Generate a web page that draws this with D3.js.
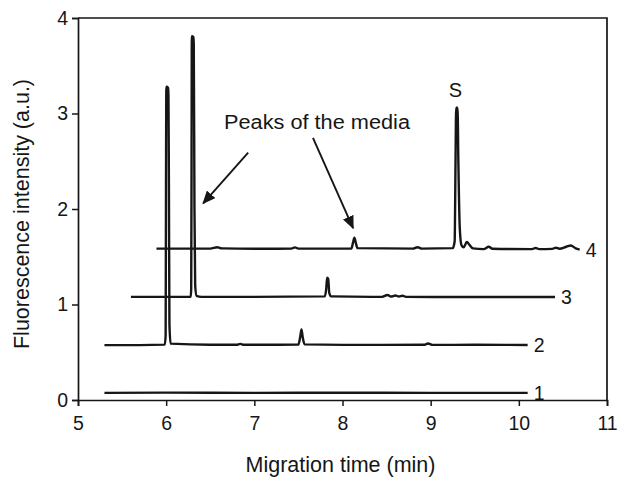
<!DOCTYPE html>
<html>
<head>
<meta charset="utf-8">
<script src="https://cdn.jsdelivr.net/npm/d3@7"></script>
<style>
body { margin: 0; background: #fff; }
text { font-family: "Liberation Sans", Arial, sans-serif; fill: #161616; }
</style>
</head>
<body>
<div id="canvas"></div>
<script>
// ----------------------------------------------------------
// DATA -----------------------------------------------------
// ----------------------------------------------------------
var x_ticks = [5, 6, 7, 8, 9, 10, 11];
var y_ticks = [0, 1, 2, 3, 4];
var series_names = ["1", "2", "3", "4"];

// electropherograms: [migration time (min), fluorescence (a.u.)]
var trace_1 = [
[5.3, 0.075], [6.0, 0.077], [7.0, 0.075], [8.0, 0.076], [9.0, 0.075], [10.1, 0.075]
];
var trace_2 = [
[5.3, 0.575], [5.7, 0.575], [5.985, 0.58], [5.994, 0.68], [5.998, 2.2], [6.002, 3.28],
[6.022, 3.27], [6.026, 3.19], [6.031, 2.3], [6.037, 0.8], [6.05, 0.59], [6.5, 0.578],
[6.8, 0.578], [6.84, 0.588], [6.88, 0.578], [7.5, 0.58], [7.52, 0.66], [7.535, 0.74],
[7.55, 0.65], [7.57, 0.582], [8.0, 0.577], [8.93, 0.578], [8.97, 0.592], [9.02, 0.577],
[9.5, 0.578], [10.1, 0.576]
];
var trace_3 = [
[5.6, 1.08], [6.0, 1.08], [6.278, 1.08], [6.284, 1.16], [6.288, 2.5], [6.291, 3.81],
[6.308, 3.8], [6.313, 3.73], [6.321, 2.0], [6.329, 1.2], [6.345, 1.09], [6.4, 1.08],
[7.0, 1.08], [7.8, 1.085], [7.815, 1.16], [7.826, 1.28], [7.838, 1.27], [7.85, 1.12],
[7.87, 1.085], [8.45, 1.08], [8.51, 1.1], [8.55, 1.083], [8.6, 1.094], [8.64, 1.084],
[8.68, 1.092], [8.72, 1.08], [9.5, 1.078], [10.41, 1.078]
];
var trace_4 = [
[5.89, 1.585], [6.5, 1.585], [6.58, 1.6], [6.63, 1.588], [7.0, 1.583], [7.42, 1.585],
[7.46, 1.598], [7.5, 1.585], [8.1, 1.585], [8.12, 1.65], [8.135, 1.7], [8.15, 1.65],
[8.17, 1.59], [8.8, 1.585], [8.85, 1.6], [8.9, 1.585], [9.25, 1.59], [9.272, 1.66],
[9.282, 2.5], [9.289, 3.06], [9.305, 3.06], [9.314, 2.5], [9.33, 1.8], [9.35, 1.62],
[9.375, 1.6], [9.41, 1.655], [9.44, 1.625], [9.48, 1.588], [9.6, 1.58], [9.66, 1.605],
[9.7, 1.584], [10.15, 1.58], [10.19, 1.592], [10.23, 1.58], [10.38, 1.582], [10.42, 1.595],
[10.46, 1.584], [10.54, 1.605], [10.59, 1.618], [10.64, 1.59], [10.69, 1.575]
];
var traces = [trace_1, trace_2, trace_3, trace_4];

// annotations, in data units
var note_text = "Peaks of the media";
var note_pos = [6.656, 2.84];
var note_arrows = [
[[6.93, 2.59], [6.42, 2.06]],
[[7.665, 2.745], [8.12, 1.80]]
];
var peak_label = "S";
var peak_label_pos = [9.28, 3.17];

// ----------------------------------------------------------
// STRUCTURE ------------------------------------------------
// ----------------------------------------------------------
var container_width = 618;
var container_height = 478;
var margin = {top: 18, right: 11, bottom: 78, left: 78};
var width = container_width - margin.left - margin.right;
var height = container_height - margin.top - margin.bottom;
var ink = "#161616";

var svg = d3.select("#canvas").append("svg")
.attr("width", container_width)
.attr("height", container_height);

svg.append("defs").append("marker")
.attr("id", "arrowhead")
.attr("viewBox", "0 0 10 10")
.attr("refX", 9)
.attr("refY", 5)
.attr("markerWidth", 7)
.attr("markerHeight", 6)
.attr("markerUnits", "strokeWidth")
.attr("orient", "auto")
.attr("preserveAspectRatio", "none")
.append("path")
.attr("d", "M0,0 L10,5 L0,10 z")
.style("fill", ink);

var g = svg.append("g")
.attr("transform", `translate(${margin.left}, ${margin.top})`);

// ----------------------------------------------------------
// SCALES ---------------------------------------------------
// ----------------------------------------------------------
var xScale = d3.scaleLinear()
.domain([5, 11])
.range([0, width]);
var yScale = d3.scaleLinear()
.domain([0, 4])
.range([height, 0]);

// ----------------------------------------------------------
// AXIS -----------------------------------------------------
// ----------------------------------------------------------
var xAxis = d3.axisBottom(xScale)
.tickValues(x_ticks)
.tickSize(6)
.tickPadding(10)
.tickFormat(d3.format("d"));
g.append("g")
.attr("transform", "translate(0," + height + ")")
.call(customAxis, xAxis);

var yAxis = d3.axisLeft(yScale)
.tickValues(y_ticks)
.tickSize(6)
.tickPadding(4)
.tickFormat(d3.format("d"));
g.append("g")
.call(customAxis, yAxis);

function customAxis(sel, axis) {
sel.call(axis);
sel.select(".domain").attr("stroke", ink).attr("stroke-width", 1.7);
sel.selectAll(".tick line").attr("stroke", ink).attr("stroke-width", 1.5);
sel.selectAll(".tick text")
.style("font-size", "19.5px")
.style("font-family", "'Liberation Sans', Arial, sans-serif")
.attr("fill", ink);
}

// frame top / right
g.append("path")
.attr("d", "M0,0 H" + width + " V" + height)
.style("fill", "none")
.style("stroke", ink)
.style("stroke-width", 1.7);

// ----------------------------------------------------------
// GFX ------------------------------------------------------
// ----------------------------------------------------------
var line = d3.line()
.x(function(d) { return xScale(d[0]); })
.y(function(d) { return yScale(d[1]); })
.curve(d3.curveMonotoneX);

g.selectAll(".trace")
.data(traces)
.enter().append("path")
.attr("class", "trace")
.attr("d", line)
.style("fill", "none")
.style("stroke", ink)
.style("stroke-width", 2.4)
.style("stroke-linejoin", "round");

// trace numbers at the end of each line
g.selectAll(".trace_label")
.data(traces)
.enter().append("text")
.attr("class", "trace_label")
.attr("x", function(d) { return xScale(d[d.length - 1][0]); })
.attr("y", function(d) { return yScale(d[d.length - 1][1]); })
.attr("dx", 6)
.attr("dy", 7)
.text(function(d, i) { return series_names[i]; })
.style("font-size", "19.5px");

// ----------------------------------------------------------
// ANNOTATIONS ----------------------------------------------
// ----------------------------------------------------------
g.append("text")
.attr("x", xScale(note_pos[0]))
.attr("y", yScale(note_pos[1]))
.text(note_text)
.style("font-size", "20px")
.attr("textLength", 186)
.attr("lengthAdjust", "spacingAndGlyphs");

g.selectAll(".arrow")
.data(note_arrows)
.enter().append("line")
.attr("class", "arrow")
.attr("x1", function(d) { return xScale(d[0][0]); })
.attr("y1", function(d) { return yScale(d[0][1]); })
.attr("x2", function(d) { return xScale(d[1][0]); })
.attr("y2", function(d) { return yScale(d[1][1]); })
.style("stroke", ink)
.style("stroke-width", 1.9)
.attr("marker-end", "url(#arrowhead)");

g.append("text")
.attr("x", xScale(peak_label_pos[0]))
.attr("y", yScale(peak_label_pos[1]))
.attr("text-anchor", "middle")
.text(peak_label)
.style("font-size", "20px");

// ----------------------------------------------------------
// TEXT -----------------------------------------------------
// ----------------------------------------------------------
svg.append("text")
.attr("x", margin.left + width / 2 - 2)
.attr("y", 472)
.attr("text-anchor", "middle")
.text("Migration time (min)")
.style("font-size", "21.5px");

svg.append("text")
.attr("transform", "translate(29," + 214 + ") rotate(-90)")
.attr("text-anchor", "middle")
.text("Fluorescence intensity (a.u.)")
.style("font-size", "21.5px");
</script>
</body>
</html>
